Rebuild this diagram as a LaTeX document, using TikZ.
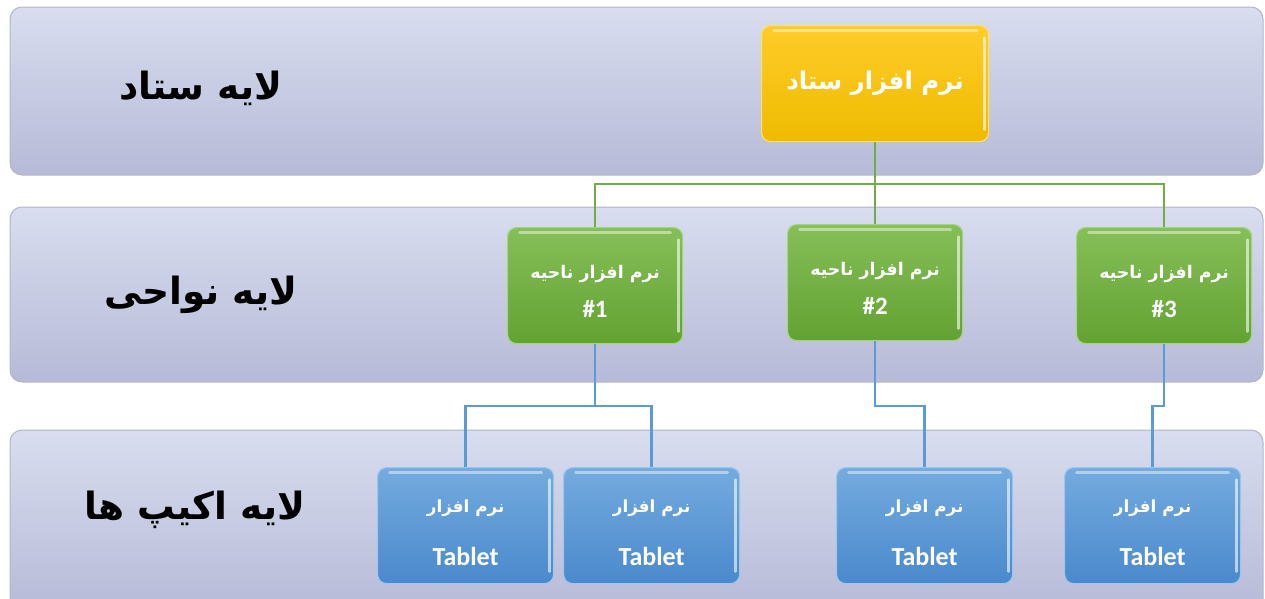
\documentclass[tikz,border=0pt]{standalone}
\usepackage{fontspec}
\setmainfont{Carlito}
\newfontfamily\arabicfont[Script=Arabic]{DejaVu Sans}
\TeXXeTstate=1
\begin{document}
\begin{tikzpicture}[x=1pt,y=-1pt,
  band/.style={draw=white!85!blue!60!gray, line width=1pt, rounded corners=12pt,
    top color=bandtop, bottom color=bandbot},
  gloss/.style={path picture={
    \draw[white, opacity=0.45, line width=3pt, line cap=round]
      ([xshift=12pt,yshift=-5pt]path picture bounding box.north west) --
      ([xshift=-12pt,yshift=-5pt]path picture bounding box.north east);
    \draw[white, opacity=0.6, line width=2.5pt, line cap=round]
      ([xshift=-4pt,yshift=-12pt]path picture bounding box.north east) --
      ([xshift=-4pt,yshift=12pt]path picture bounding box.south east);}},
  boxbase/.style={rectangle, rounded corners=9pt, line width=1.2pt, align=center,
    text=white, inner sep=0pt, anchor=north west, gloss},
  ybox/.style={boxbase, draw=yellowedge, top color=ytop, bottom color=ybot},
  gbox/.style={boxbase, draw=greenedge, top color=gtop, bottom color=gbot},
  bbox/.style={boxbase, draw=blueedge, top color=btop, bottom color=bbot},
  layerlabel/.style={font=\arabicfont\bfseries\fontsize{37.5}{44}\selectfont, text=black},
  gline/.style={draw=greenline, line width=2.4pt},
  bline/.style={draw=blueline, line width=2.4pt}]
\definecolor{bandtop}{HTML}{D9DDEF}
\definecolor{bandbot}{HTML}{B6BAD7}
\definecolor{ytop}{HTML}{FFCC2A}
\definecolor{ybot}{HTML}{EEBB00}
\definecolor{yellowedge}{HTML}{FFDE6A}
\definecolor{gtop}{HTML}{86BF58}
\definecolor{gbot}{HTML}{62A232}
\definecolor{greenedge}{HTML}{A6D47E}
\definecolor{btop}{HTML}{74ABDF}
\definecolor{bbot}{HTML}{4A89CC}
\definecolor{blueedge}{HTML}{9CC6EC}
\definecolor{greenline}{HTML}{70AD47}
\definecolor{blueline}{HTML}{5B9BD5}
\useasboundingbox (0,0) rectangle (1265,598);
\fill[white] (0,0) rectangle (1265,598);
% layer bands
\path[band] (10,7) rectangle (1263,175);
\path[band] (10,207) rectangle (1263,382);
\path[band] (10,430) rectangle (1263,612);
% layer labels
\node[layerlabel] (l1) at (201,88) {\beginR لایه ستاد\endR};
\node[layerlabel] (l2) at (201,295) {\beginR لایه نواحی\endR};
\node[layerlabel] (l3) at (195,510) {\beginR لایه اکیپ ها\endR};
% top box
\node[ybox, minimum width=227pt, minimum height=116pt,
  font=\arabicfont\bfseries\fontsize{24.5}{28}\selectfont] (hq) at (761,25) {\beginR نرم افزار ستاد\endR};
% region boxes
\tikzset{gtext/.style={font=\bfseries\fontsize{25}{39}\selectfont, minimum width=175pt, minimum height=116pt}}
\newcommand{\regionline}{{\arabicfont\fontsize{17.4}{20}\selectfont\rule{0pt}{25pt}\beginR نرم افزار ناحیه\endR}}
\newcommand{\tabletline}{{\arabicfont\fontsize{16.8}{20}\selectfont\rule{0pt}{26pt}\beginR نرم افزار\endR}}
\node[gbox, gtext] (r1) at (507,227) {\regionline\\\#1};
\node[gbox, gtext] (r2) at (787,224) {\regionline\\\#2};
\node[gbox, gtext] (r3) at (1076,227) {\regionline\\\#3};
% tablet boxes
\tikzset{btext/.style={font=\bfseries\fontsize{26}{53}\selectfont, minimum width=176pt, minimum height=116pt}}
\node[bbox, btext] (t1) at (377,467) {\tabletline\\Tablet};
\node[bbox, btext] (t2) at (563,467) {\tabletline\\Tablet};
\node[bbox, btext] (t3) at (836,467) {\tabletline\\Tablet};
\node[bbox, btext] (t4) at (1064,467) {\tabletline\\Tablet};
% connectors
\coordinate (gbus) at (0,184);
\path[gline] (hq.south) -- (hq.south |- gbus);
\path[gline] (r1.north) -- (r1.north |- gbus) -- (r3.north |- gbus) -- (r3.north);
\path[gline] (r2.north) -- (r2.north |- gbus);
\coordinate (bbus) at (0,406);
\path[bline] (r1.south) -- (r1.south |- bbus);
\path[bline] (t1.north) -- (t1.north |- bbus) -- (t2.north |- bbus) -- (t2.north);
\path[bline] (r2.south) -- (r2.south |- bbus) -- (t3.north |- bbus) -- (t3.north);
\path[bline] (r3.south) -- (r3.south |- bbus) -- (t4.north |- bbus) -- (t4.north);
\end{tikzpicture}
\end{document}
